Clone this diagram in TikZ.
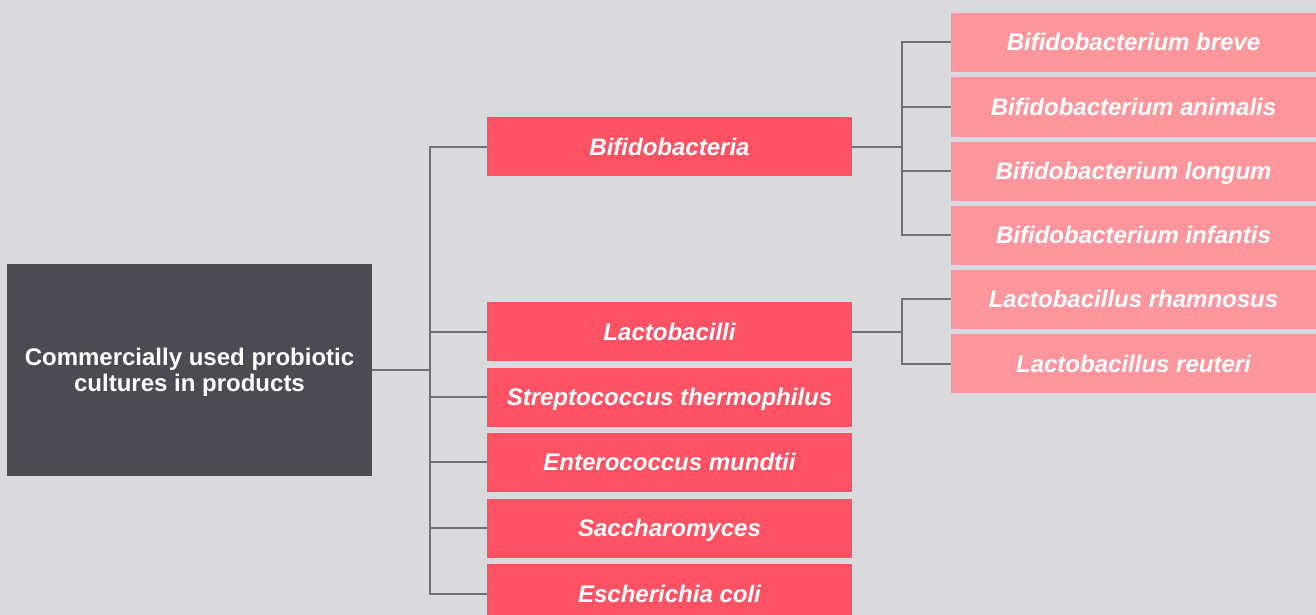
\documentclass[tikz,border=0pt]{standalone}
\usepackage{fontspec}
\setmainfont{Liberation Sans}
\definecolor{bg}{HTML}{DAD9DE}
\definecolor{rootc}{HTML}{4B4B54}
\definecolor{midc}{HTML}{FC5264}
\definecolor{leafc}{HTML}{FC959C}
\definecolor{linec}{HTML}{707078}
\begin{document}
\begin{tikzpicture}[x=1pt,y=-1pt,
  box/.style={minimum width=365pt,minimum height=59pt,inner sep=0pt,text=white,
    text height=17pt,text depth=0pt,
    font=\fontsize{24}{26}\selectfont\bfseries\itshape},
  midbox/.style={box,fill=midc},
  leafbox/.style={box,fill=leafc},
  rootbox/.style={minimum width=365pt,minimum height=212pt,inner sep=0pt,fill=rootc,text=white,
    align=center,text depth=1pt,font=\fontsize{24}{26}\selectfont\bfseries},
  conn/.style={draw=linec,line width=2pt}]
\useasboundingbox (0,0) rectangle (1316,615);
\clip (0,0) rectangle (1316,615);
\fill[bg] (0,0) rectangle (1316,615);
\node[rootbox] (root) at (189.5,370) {Commercially used probiotic\\cultures in products};
\node[midbox] (bif) at (669.5,146.5) {Bifidobacteria};
\node[midbox] (lac) at (669.5,331.5) {Lactobacilli};
\node[midbox] (str) at (669.5,397) {Streptococcus thermophilus};
\node[midbox] (ent) at (669.5,462) {Enterococcus mundtii};
\node[midbox] (sac) at (669.5,528) {Saccharomyces};
\node[midbox] (esc) at (669.5,593.5) {Escherichia coli};
\node[leafbox] (b1) at (1133.5,42.5) {Bifidobacterium breve};
\node[leafbox] (b2) at (1133.5,107) {Bifidobacterium animalis};
\node[leafbox] (b3) at (1133.5,171) {Bifidobacterium longum};
\node[leafbox] (b4) at (1133.5,235) {Bifidobacterium infantis};
\node[leafbox] (l1) at (1133.5,299) {Lactobacillus rhamnosus};
\node[leafbox] (l2) at (1133.5,363.5) {Lactobacillus reuteri};
\coordinate (j0) at (430,370);
\coordinate (j1) at (902,146.5);
\coordinate (j2) at (902,331.5);
\draw[conn] (root.east) -- (j0);
\foreach \n in {bif,lac,str,ent,sac,esc} \draw[conn] (j0) |- (\n.west);
\draw[conn] (bif.east) -- (j1);
\foreach \n in {b1,b2,b3,b4} \draw[conn] (j1) |- (\n.west);
\draw[conn] (lac.east) -- (j2);
\foreach \n in {l1,l2} \draw[conn] (j2) |- (\n.west);
\end{tikzpicture}
\end{document}
